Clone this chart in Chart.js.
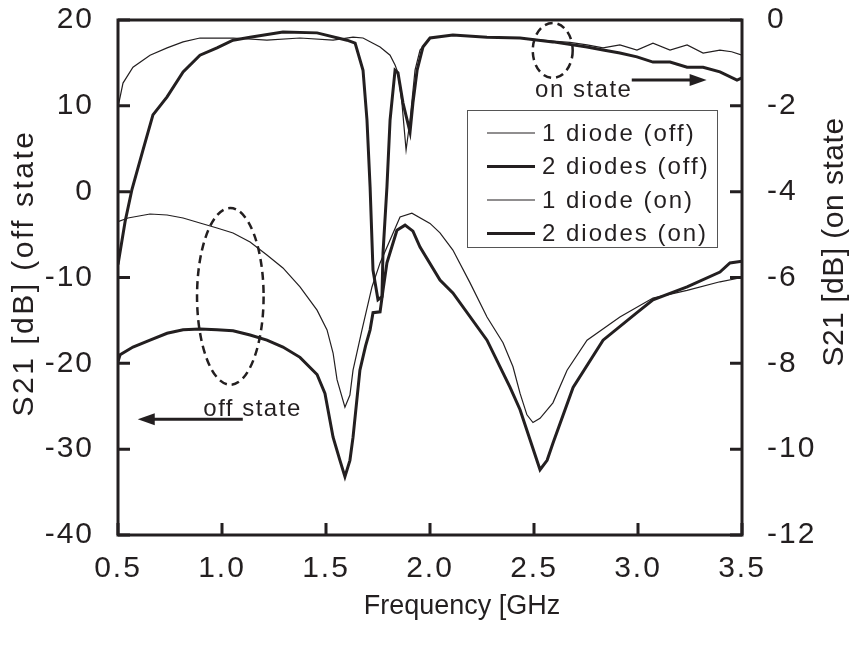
<!DOCTYPE html>
<html>
<head>
<meta charset="utf-8">
<script src="https://cdn.jsdelivr.net/npm/chart.js@4.4.1/dist/chart.umd.min.js"></script>
<style>
  html, body { margin: 0; padding: 0; background: #fff; }
  #wrap { width: 855px; height: 646px; }
</style>
</head>
<body>
<div id="wrap"><canvas id="c" width="855" height="646"></canvas></div>
<script>
// S21 vs frequency, on state read on the right axis, off state on the left axis

// 1 diode (on) - thin upper curve
const freqOn1 = [0.5, 0.524, 0.572, 0.654, 0.736, 0.813, 0.894, 1.053, 1.216, 1.375, 1.534, 1.63, 1.678, 1.76, 1.808, 1.832, 1.846, 1.865, 1.885, 1.904, 1.928, 1.952, 2.0, 2.11, 2.274, 2.433, 2.591, 2.673, 2.755, 2.832, 2.913, 2.995, 3.072, 3.154, 3.236, 3.313, 3.394, 3.45, 3.5];
const s21On1  = [-2.03, -1.47, -1.10, -0.82, -0.65, -0.51, -0.42, -0.42, -0.47, -0.42, -0.47, -0.40, -0.42, -0.63, -0.82, -1.05, -1.23, -1.93, -3.03, -2.33, -1.17, -0.70, -0.42, -0.35, -0.40, -0.42, -0.49, -0.52, -0.58, -0.65, -0.58, -0.70, -0.54, -0.70, -0.58, -0.77, -0.70, -0.74, -0.82];

// 2 diodes (on) - thick upper curve
const freqOn2 = [0.5, 0.534, 0.567, 0.62, 0.668, 0.736, 0.813, 0.894, 0.976, 1.053, 1.135, 1.293, 1.457, 1.601, 1.64, 1.678, 1.697, 1.712, 1.726, 1.75, 1.769, 1.774, 1.793, 1.808, 1.832, 1.846, 1.87, 1.904, 1.918, 1.938, 1.966, 2.0, 2.11, 2.274, 2.433, 2.591, 2.755, 2.832, 2.913, 2.995, 3.072, 3.154, 3.236, 3.313, 3.394, 3.476, 3.5];
const s21On2  = [-5.70, -4.70, -3.95, -3.03, -2.21, -1.79, -1.21, -0.82, -0.65, -0.47, -0.40, -0.28, -0.30, -0.47, -0.54, -1.17, -2.33, -3.89, -5.83, -6.52, -6.45, -5.43, -3.89, -2.33, -1.17, -1.23, -1.93, -2.61, -1.93, -1.17, -0.63, -0.42, -0.35, -0.40, -0.42, -0.51, -0.63, -0.70, -0.77, -0.86, -0.98, -0.98, -1.10, -1.10, -1.21, -1.40, -1.35];

// 1 diode (off) - thin lower curve
const freqOff1 = [0.5, 0.548, 0.654, 0.736, 0.813, 0.894, 0.976, 1.053, 1.135, 1.216, 1.293, 1.375, 1.457, 1.505, 1.534, 1.553, 1.591, 1.615, 1.63, 1.673, 1.721, 1.76, 1.856, 1.913, 2.0, 2.048, 2.11, 2.192, 2.274, 2.351, 2.399, 2.433, 2.466, 2.495, 2.529, 2.591, 2.659, 2.755, 2.913, 3.072, 3.236, 3.394, 3.5];
const s21Off1  = [-3.5, -3.07, -2.6, -2.72, -3.07, -3.65, -4.23, -4.81, -5.86, -7.38, -8.89, -11.1, -13.8, -16.1, -18.8, -21.9, -25.1, -23.7, -20.8, -16.1, -11.1, -8.3, -2.95, -2.5, -3.7, -4.8, -6.8, -10.6, -14.6, -17.6, -20.4, -23.5, -26.0, -26.9, -26.4, -24.6, -20.8, -17.3, -14.6, -12.4, -11.5, -10.5, -10.0];

// 2 diodes (off) - thick lower curve
const freqOff2 = [0.5, 0.51, 0.572, 0.654, 0.736, 0.813, 0.894, 0.976, 1.053, 1.135, 1.216, 1.293, 1.375, 1.457, 1.495, 1.534, 1.567, 1.591, 1.615, 1.63, 1.663, 1.69, 1.712, 1.726, 1.76, 1.774, 1.793, 1.841, 1.88, 1.918, 1.952, 2.048, 2.11, 2.274, 2.385, 2.433, 2.481, 2.529, 2.563, 2.591, 2.688, 2.832, 2.995, 3.072, 3.236, 3.394, 3.442, 3.5];
const s21Off2  = [-19.8, -19.0, -18.1, -17.3, -16.5, -16.1, -16.0, -16.1, -16.2, -16.7, -17.3, -18.1, -19.3, -21.3, -23.5, -28.6, -31.3, -33.2, -31.3, -28.6, -20.8, -18.0, -16.1, -14.1, -14.0, -11.5, -8.3, -4.5, -3.9, -4.6, -6.45, -10.3, -11.8, -17.3, -22.8, -25.4, -28.9, -32.4, -31.3, -29.3, -22.8, -17.3, -14.1, -12.6, -11.1, -9.36, -8.3, -8.1];

const labels = ['1 diode (off)', '2 diodes (off)', '1 diode (on)', '2 diodes (on)'];

const INK = '#231f20';
const FONT = "'Liberation Sans', Arial, sans-serif";

function pts(xs, ys) {
  return xs.map((x, i) => ({ x: x, y: ys[i] }));
}

function line(label, xs, ys, axis, width) {
  return {
    label: label,
    data: pts(xs, ys),
    yAxisID: axis,
    borderColor: INK,
    borderWidth: width,
    pointRadius: 0,
    tension: 0,
    fill: false
  };
}

// no extra room for labels sticking out past the plot edges
function fixBox(w, h) {
  return s => {
    if (w) s.width = w;
    if (h) s.height = h;
    s.paddingTop = 0; s.paddingBottom = 0;
    s.paddingLeft = 0; s.paddingRight = 0;
  };
}

// frame, inward ticks, legend and the hand-drawn notes
const decorations = {
  id: 'decorations',
  beforeDraw(chart) {
    chart.ctx.letterSpacing = '2px';
  },
  afterDraw(chart) {
    const { ctx, chartArea: a, scales } = chart;
    const x = scales.x, yl = scales.yOff, yr = scales.yOn;
    ctx.save();
    ctx.letterSpacing = '0px';
    ctx.strokeStyle = INK;
    ctx.fillStyle = INK;

    // frame + ticks
    ctx.lineWidth = 3;
    ctx.strokeRect(a.left, a.top, a.right - a.left, a.bottom - a.top);
    const len = 12;
    ctx.beginPath();
    x.ticks.forEach(t => {
      const px = x.getPixelForValue(t.value);
      ctx.moveTo(px, a.bottom); ctx.lineTo(px, a.bottom - len);
    });
    yl.ticks.forEach(t => {
      const py = yl.getPixelForValue(t.value);
      ctx.moveTo(a.left, py); ctx.lineTo(a.left + len, py);
    });
    yr.ticks.forEach(t => {
      const py = yr.getPixelForValue(t.value);
      ctx.moveTo(a.right, py); ctx.lineTo(a.right - len, py);
    });
    ctx.stroke();

    // axis titles
    ctx.font = '30px ' + FONT;
    ctx.textAlign = 'center';
    ctx.textBaseline = 'alphabetic';
    ctx.save();
    ctx.translate(33, 273);
    ctx.rotate(-Math.PI / 2);
    ctx.letterSpacing = '2.5px';
    ctx.fillText('S21 [dB] (off state', 0, 0);
    ctx.restore();
    ctx.save();
    ctx.translate(843, 242);
    ctx.rotate(-Math.PI / 2);
    ctx.letterSpacing = '0.5px';
    ctx.fillText('S21 [dB] (on state', 0, 0);
    ctx.restore();
    ctx.font = '27px ' + FONT;
    ctx.letterSpacing = '0px';
    ctx.fillText('Frequency [GHz', 462, 614);

    // legend
    const lx = a.left + 349, ly = a.top + 90;
    ctx.lineWidth = 1;
    ctx.strokeStyle = '#555';
    ctx.strokeRect(lx + 0.5, ly + 0.5, 250, 137);
    ctx.strokeStyle = INK;
    ctx.font = '24px ' + FONT;
    ctx.letterSpacing = '2px';
    ctx.textAlign = 'left';
    ctx.textBaseline = 'middle';
    chart.data.datasets.forEach((ds, i) => {
      const ry = ly + 23 + i * 33.5;
      ctx.lineWidth = ds.borderWidth;
      ctx.beginPath();
      ctx.moveTo(lx + 20, ry); ctx.lineTo(lx + 68, ry);
      ctx.stroke();
      ctx.fillText(ds.label, lx + 75, ry + 1);
    });

    // dashed ellipses
    ctx.lineWidth = 2.5;
    ctx.setLineDash([8, 5]);
    ctx.beginPath();
    ctx.ellipse(x.getPixelForValue(1.04), yl.getPixelForValue(-12.2),
      x.getPixelForValue(1.04) - x.getPixelForValue(0.88),
      yl.getPixelForValue(-22.5) - yl.getPixelForValue(-12.2), 0, 0, Math.PI * 2);
    ctx.stroke();
    ctx.beginPath();
    ctx.ellipse(x.getPixelForValue(2.59), yr.getPixelForValue(-0.71),
      x.getPixelForValue(2.59) - x.getPixelForValue(2.494),
      yr.getPixelForValue(-1.35) - yr.getPixelForValue(-0.71), 0, 0, Math.PI * 2);
    ctx.stroke();
    ctx.setLineDash([]);

    // arrows
    function arrow(x0, x1, py) {
      const dir = Math.sign(x1 - x0);
      ctx.lineWidth = 3;
      ctx.beginPath();
      ctx.moveTo(x0, py); ctx.lineTo(x1 - dir * 12, py);
      ctx.stroke();
      ctx.beginPath();
      ctx.moveTo(x1, py);
      ctx.lineTo(x1 - dir * 17, py - 6);
      ctx.lineTo(x1 - dir * 17, py + 6);
      ctx.closePath();
      ctx.fill();
    }
    arrow(x.getPixelForValue(2.97), x.getPixelForValue(3.33), yr.getPixelForValue(-1.40));
    arrow(x.getPixelForValue(1.10), x.getPixelForValue(0.595), yl.getPixelForValue(-26.5));

    ctx.font = '24px ' + FONT;
    ctx.letterSpacing = '1.5px';
    ctx.textBaseline = 'alphabetic';
    ctx.fillText('on state', x.getPixelForValue(2.505), yr.getPixelForValue(-1.80));
    ctx.fillText('off state', x.getPixelForValue(0.91), yl.getPixelForValue(-26.1));

    ctx.restore();
  }
};

new Chart(document.getElementById('c'), {
  type: 'line',
  data: {
    datasets: [
      line(labels[0], freqOff1, s21Off1, 'yOff', 1.2),
      line(labels[1], freqOff2, s21Off2, 'yOff', 3),
      line(labels[2], freqOn1, s21On1, 'yOn', 1.2),
      line(labels[3], freqOn2, s21On2, 'yOn', 3)
    ]
  },
  options: {
    responsive: false,
    animation: false,
    layout: { padding: { top: 20, left: 0, right: 0, bottom: 0 } },
    plugins: {
      legend: { display: false },
      tooltip: { enabled: false }
    },
    scales: {
      x: {
        type: 'linear',
        min: 0.5,
        max: 3.5,
        grid: { display: false, drawTicks: false },
        border: { display: false },
        ticks: {
          stepSize: 0.5,
          padding: 16,
          color: INK,
          font: { family: FONT, size: 30 },
          callback: v => v.toFixed(1)
        },
        afterFit: fixBox(0, 111)
      },
      yOff: {
        position: 'left',
        min: -40,
        max: 20,
        grid: { display: false, drawTicks: false },
        border: { display: false },
        ticks: {
          stepSize: 10,
          padding: 24,
          color: INK,
          font: { family: FONT, size: 30 }
        },
        afterFit: fixBox(118, 0)
      },
      yOn: {
        position: 'right',
        min: -12,
        max: 0,
        grid: { display: false, drawTicks: false },
        border: { display: false },
        ticks: {
          stepSize: 2,
          padding: 25,
          color: INK,
          font: { family: FONT, size: 30 }
        },
        afterFit: fixBox(113, 0)
      }
    }
  },
  plugins: [decorations]
});
</script>
</body>
</html>
